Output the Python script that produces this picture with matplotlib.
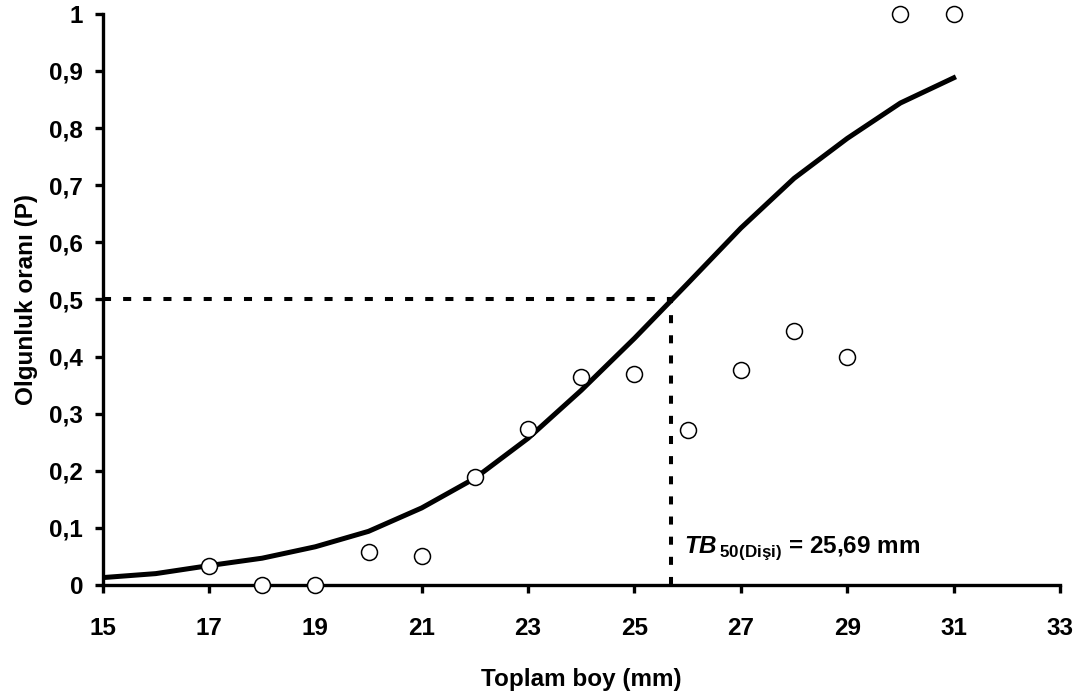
import matplotlib
matplotlib.use("Agg")
import matplotlib.pyplot as plt

plt.rcParams['font.family'] = ['Liberation Sans', 'DejaVu Sans']
plt.rcParams['font.weight'] = 'bold'
plt.rcParams['mathtext.fontset'] = 'custom'
plt.rcParams['mathtext.rm'] = 'Liberation Sans:bold'
plt.rcParams['mathtext.bf'] = 'Liberation Sans:bold'
plt.rcParams['mathtext.bfit'] = 'Liberation Sans:italic:bold'

# gözlenen olgunluk oranları
boy = [17, 18, 19, 20, 21, 22, 23, 24, 25, 26, 27, 28, 29, 30, 31]
oran = [0.033, 0.0, 0.0, 0.058, 0.050, 0.190, 0.274, 0.365, 0.370,
        0.271, 0.377, 0.445, 0.400, 1.0, 1.0]

# lojistik eğri
egri_boy = [15, 16, 17, 18, 19, 20, 21, 22, 23, 24, 25, 26, 27, 28, 29, 30, 31]
egri_oran = [0.013, 0.020, 0.034, 0.047, 0.067, 0.094, 0.135, 0.187, 0.257,
             0.341, 0.432, 0.528, 0.625, 0.712, 0.782, 0.844, 0.888]

tb50 = 25.69

x_ticks = [15, 17, 19, 21, 23, 25, 27, 29, 31, 33]
y_ticks = [0, 0.1, 0.2, 0.3, 0.4, 0.5, 0.6, 0.7, 0.8, 0.9, 1]
y_labels = ['0', '0,1', '0,2', '0,3', '0,4', '0,5', '0,6', '0,7', '0,8', '0,9', '1']

fig = plt.figure(figsize=(10.85, 6.94), dpi=100)
ax = fig.add_axes([0.0945, 0.157, 0.8825, 0.823])

ax.plot(egri_boy, egri_oran, color='black', lw=3.6, zorder=3)
ax.plot([15, tb50], [0.5, 0.5], color='black', lw=2.9, dashes=(2, 3), zorder=2)
ax.plot([tb50, tb50], [0, 0.5], color='black', lw=2.9, dashes=(2, 3), zorder=2)
ax.plot(boy, oran, 'o', ms=11.5, mfc='white', mec='black', mew=1.1,
        zorder=4, clip_on=False)

ax.text(25.93, 0.057, r'$\mathbfit{TB}_{\,\mathbf{50(Dişi)}}$ = 25,69 mm',
        fontsize=17.5, fontweight='bold', va='baseline', ha='left')

ax.set_xlim(15, 33)
ax.set_ylim(0, 1)
ax.set_xticks(x_ticks)
ax.set_xticklabels([str(t) for t in x_ticks])
ax.set_yticks(y_ticks)
ax.set_yticklabels(y_labels)

for s in ['top', 'right']:
    ax.spines[s].set_visible(False)
for s in ['left', 'bottom']:
    ax.spines[s].set_linewidth(2.4)

ax.tick_params(axis='both', direction='out', length=6, width=2.4, labelsize=17.5)
ax.tick_params(axis='x', pad=17)
ax.tick_params(axis='y', pad=8)

ax.set_xlabel('Toplam boy (mm)', fontsize=17.5, fontweight='bold', labelpad=20)
ax.set_ylabel('Olgunluk oranı (P)', fontsize=17.5, fontweight='bold', labelpad=8)

fig.savefig('out.png', dpi=100)
